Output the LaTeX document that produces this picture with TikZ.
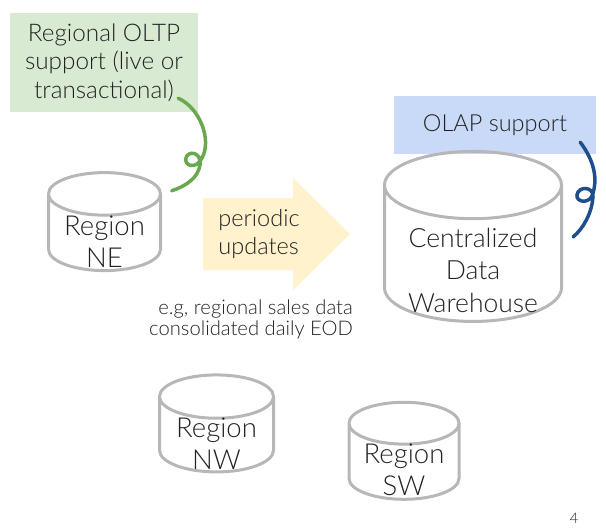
\documentclass[tikz,border=0pt]{standalone}
\usepackage{fontspec}
\setmainfont{Lato}[UprightFont=* Light]
\usetikzlibrary{shapes.geometric}
\definecolor{oltpfill}{HTML}{D9EAD3}
\definecolor{olapfill}{HTML}{C9DAF8}
\definecolor{updfill}{HTML}{FFF2CC}
\definecolor{oltpline}{HTML}{6AA84F}
\definecolor{olapline}{HTML}{1F4E8C}
\definecolor{dbgray}{HTML}{B7B7B7}
\definecolor{txt}{HTML}{222222}
\tikzset{
  db/.style={cylinder, shape border rotate=90, draw=dbgray, line width=3pt,
    aspect=0.38, inner sep=0pt},
  note/.style={inner sep=0pt, align=center, text=txt},
  dbtext/.style={note, font=\fontsize{27.5}{32}\selectfont},
  curl/.style={line width=3.5pt, line cap=round},
}
\begin{document}
\begin{tikzpicture}[x=1pt, y=-1pt, font=\fontsize{23.5}{28.5}\selectfont]
  \useasboundingbox (0,0) rectangle (606,530);

  % callout boxes
  \node[note, fill=oltpfill, minimum width=188, minimum height=99,
    font=\fontsize{24.3}{28.5}\selectfont] (oltp) at (104,62.5)
    {Regional OLTP\\support (live or\\transactional)};
  \node[note, fill=olapfill, minimum width=202, minimum height=58] (olap) at (495,125)
    {OLAP support};

  % databases
  \node[db, minimum width=112, minimum height=98,
    label={[dbtext, yshift=-9]center:{Region\\NE}}] (ne) at (104.5,233) {\hspace*{112pt}};
  \node[db, minimum width=177, minimum height=170,
    label={[dbtext, yshift=-16, font=\fontsize{26.5}{32.5}\selectfont]center:{Centralized\\Data\\Warehouse}}]
    (dw) at (473,254) {\hspace*{177pt}};
  \node[db, minimum width=114, minimum height=97,
    label={[dbtext, yshift=-9]center:{Region\\NW}}] (nw) at (216.5,435) {\hspace*{114pt}};
  \node[db, minimum width=110, minimum height=97,
    label={[dbtext, yshift=-8]center:{Region\\SW}}] (sw) at (404,462) {\hspace*{110pt}};

  % periodic updates arrow
  \fill[updfill] (203,198) -- (293,198) -- (293,178) -- (350,234) -- (293,290)
    -- (293,270) -- (203,270) -- cycle;
  \node[note, align=left] (upd) at (259,234) {periodic\\updates};
  \node[note, align=right, anchor=north east, font=\fontsize{20.2}{21}\selectfont] (eg) at (353,300)
    {e.g, regional sales data\\consolidated daily EOD};

  % curly connectors
  \draw[curl, oltpline] ([shift={(-20,-14)}]oltp.south east) .. controls (200,108) and (212,140) .. (202,158)
    .. controls (196,170) and (184,166) .. (186,158)
    .. controls (188,150) and (202,152) .. (200,165)
    .. controls (198,178) and (186,186) .. ([shift={(17,8)}]ne.north east);
  \draw[curl, olapline] ([shift={(-16,-12)}]olap.south east) .. controls (590,155) and (600,175) .. (592,196)
    .. controls (588,204) and (576,202) .. (577,195)
    .. controls (578,186) and (594,186) .. (593,197)
    .. controls (592,212) and (584,228) .. ([shift={(10,-17)}]dw.east);

  % page number
  \node[note, font=\fontsize{14.5}{16}\selectfont] (pg) at (574,518) {4};
\end{tikzpicture}
\end{document}
